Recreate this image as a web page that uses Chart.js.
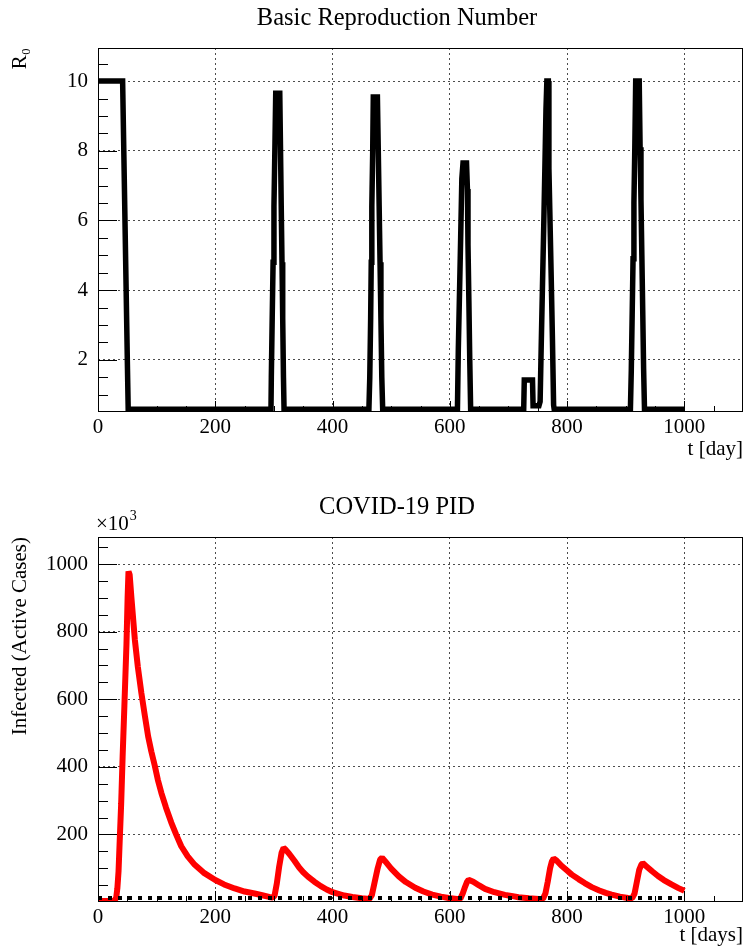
<!DOCTYPE html>
<html>
<head>
<meta charset="utf-8">
<script src="https://cdn.jsdelivr.net/npm/chart.js@4.4.1/dist/chart.umd.min.js"></script>
<style>
  html, body { margin: 0; padding: 0; background: #fff; }
  canvas { position: absolute; left: 0; }
  #chart1 { top: 0; }
  #chart2 { top: 474px; }
</style>
</head>
<body>
<canvas id="chart1" width="744" height="474"></canvas>
<canvas id="chart2" width="744" height="474"></canvas>
<script>
// tick labels
const dayTicks = [0, 200, 400, 600, 800, 1000];
const r0Ticks = [2, 4, 6, 8, 10];
const infTicks = [200, 400, 600, 800, 1000];

// basic reproduction number
const r0Days = [
  0, 42, 44, 46, 48, 50, 51.5,
  295, 295.6, 297.1, 298.6, 300.1, 301.6, 303.1, 310, 311.3, 312.5, 313.8, 315, 316.3, 317.3,
  462, 463.5, 465, 466, 467, 468.5, 469.5, 476.5, 478, 479.5, 481, 482.5, 484, 485.5,
  613, 614.5, 616.5, 618.5, 620.5, 622.5, 628.5, 630, 631, 632.5, 634, 635.5,
  726, 727, 741, 742, 752, 754, 756, 758, 760, 762, 764, 765.5, 768, 769, 771, 773, 775, 777, 778,
  908, 909.5, 911, 912.5, 914, 915.5, 917, 923, 924.5, 926, 927.5, 929, 930.5, 932, 1000
];
const r0Values = [
  10, 10, 8, 6, 4, 2, 0.58,
  0.58, 1.5, 3.2, 4.8, 6.4, 8.0, 9.65, 9.65, 8.0, 6.4, 4.8, 3.2, 1.5, 0.58,
  0.58, 1.5, 3.2, 4.8, 6.4, 8.0, 9.54, 9.54, 8.0, 6.4, 4.8, 3.2, 1.5, 0.58,
  0.58, 2.3, 3.9, 5.5, 7.2, 7.65, 7.65, 6.9, 5.3, 3.7, 2.0, 0.58,
  0.58, 1.42, 1.42, 0.68, 0.68, 0.8, 2.5, 4.1, 5.7, 7.4, 9.2, 10, 10, 7.5, 5.9, 4.3, 2.6, 0.7, 0.58,
  0.58, 1.7, 3.3, 4.9, 6.5, 8.1, 10, 10, 8.1, 6.6, 5.0, 3.4, 1.74, 0.58, 0.58
];

// infected, active cases (x10^3)
const infDays = [
  0, 10, 20, 28, 31, 33, 35, 37, 39.5, 42, 45, 48.5, 50.5, 52, 54, 57, 62.9, 68, 74, 80,
  85.5, 91, 97, 102, 108, 116, 125, 133, 142, 153, 165, 180, 200, 215, 233, 250, 267, 280, 292,
  298, 301, 305, 309, 313, 316.5, 320, 326, 335, 343, 350, 358, 369, 380, 390, 400, 420, 434, 450,
  463, 467, 472, 477, 481, 484.5, 490, 500, 513, 525, 541, 555, 570, 585, 598,
  612, 618, 622, 626, 629.5, 632, 640, 650, 660, 676, 694, 705, 717, 735,
  752, 759, 763, 767, 771, 774, 777, 782, 790, 800, 808, 820, 830, 842, 855, 866, 876, 890, 904,
  911, 915, 919, 923, 926.5, 929, 935, 945, 955, 965, 978, 990, 1000
];
const infValues = [
  3, 3, 3, 4, 12, 40, 90, 180, 290, 430, 580, 760, 900, 978, 968, 900, 775, 695, 618, 550,
  490, 445, 402, 362, 323, 279, 235, 201, 165, 135, 110, 87, 65, 52, 40, 31, 25, 20, 15,
  13, 18, 55, 105, 145, 160, 155, 143, 122, 102, 88, 75, 60, 47, 37, 29, 19, 15, 11,
  9, 20, 60, 100, 125, 131, 120, 99, 76, 59, 42, 31, 22, 16, 12,
  9, 10, 25, 45, 60, 66, 60, 49, 39, 29, 21, 18, 14, 11,
  9, 10, 25, 60, 100, 120, 129, 123, 108, 93, 81, 67, 56, 44, 34, 27, 22, 16, 12,
  11, 25, 60, 95, 110, 115, 106, 91, 77, 65, 52, 41, 33
];

// dotted reference level
const levelDays = [0, 1000];
const levelValues = [12, 12];

const serif = "'Liberation Serif', 'Times New Roman', serif";

function points(xs, ys) {
  return xs.map((x, i) => ({ x: x, y: ys[i] }));
}

// frame, inward ticks and titles drawn the ROOT way
const rootFrame = {
  id: "rootFrame",
  afterDatasetsDraw(chart, args, opts) {
    const { ctx, chartArea: a } = chart;
    const x = chart.scales.x;
    const y = chart.scales.y;
    ctx.save();
    ctx.strokeStyle = "#000";
    ctx.lineWidth = 1;
    ctx.beginPath();
    for (let v = opts.xMinor; v < x.max; v += opts.xMinor) {
      const px = Math.round(x.getPixelForValue(v)) + 0.5;
      const len = v % opts.xMajor === 0 ? 11 : 6;
      ctx.moveTo(px, a.bottom);
      ctx.lineTo(px, a.bottom - len);
    }
    for (let v = Math.ceil(y.min / opts.yMinor) * opts.yMinor; v < y.max; v += opts.yMinor) {
      if (v <= y.min + 1e-6) continue;
      const py = Math.round(y.getPixelForValue(v)) + 0.5;
      const r = v / opts.yMajor;
      const major = Math.abs(r - Math.round(r)) < 1e-6;
      ctx.moveTo(a.left, py);
      ctx.lineTo(a.left + (major ? 19 : 10), py);
    }
    ctx.stroke();
    ctx.strokeRect(a.left + 0.5, a.top + 0.5, a.width - 1, a.height - 1);
    ctx.restore();
  },
  afterDraw(chart, args, opts) {
    const ctx = chart.ctx;
    ctx.save();
    ctx.fillStyle = "#000";
    ctx.font = "24.5px " + serif;
    ctx.textAlign = "center";
    ctx.textBaseline = "middle";
    ctx.fillText(opts.title, 397, opts.titleY);
    if (opts.exponent) {
      ctx.textAlign = "left";
      ctx.font = "21px " + serif;
      ctx.fillText("\u00d710", 96, 50);
      const w = ctx.measureText("\u00d710").width;
      ctx.font = "14px " + serif;
      ctx.fillText("3", 96 + w + 1, 42);
    }
    ctx.restore();
  },
};

function makeChart(id, datasets, cfg) {
  return new Chart(document.getElementById(id), {
    type: "line",
    data: { datasets: datasets },
    plugins: [rootFrame],
    options: {
      responsive: false,
      animation: false,
      devicePixelRatio: 1,
      layout: { padding: { top: cfg.padTop, right: 1, left: 0, bottom: 0 } },
      plugins: {
        legend: { display: false },
        tooltip: { enabled: false },
        rootFrame: cfg.frame,
      },
      scales: {
        x: {
          type: "linear",
          min: 0,
          max: 1100,
          afterFit: (s) => { s.height = cfg.xHeight; },
          afterBuildTicks: (s) => { s.ticks = dayTicks.map((v) => ({ value: v })); },
          ticks: {
            autoSkip: false,
            maxRotation: 0,
            padding: 3,
            color: "#000",
            font: { family: serif, size: 21 },
            callback: (v) => String(v),
          },
          grid: { color: "rgba(0,0,0,0.7)", lineWidth: 1, drawTicks: false },
          border: { display: false, dash: [2, 3] },
          title: {
            display: true,
            text: cfg.xTitle,
            align: "end",
            color: "#000",
            font: { family: serif, size: 21 },
            padding: { top: 0, bottom: cfg.xTitlePad },
          },
        },
        y: {
          type: "linear",
          min: cfg.yMin,
          max: cfg.yMax,
          afterFit: (s) => { s.width = 98; },
          afterBuildTicks: (s) => { s.ticks = cfg.yTicks.map((v) => ({ value: v })); },
          ticks: {
            padding: 10,
            color: "#000",
            font: { family: serif, size: 21 },
            callback: (v) => String(v),
          },
          grid: { color: "rgba(0,0,0,0.7)", lineWidth: 1, drawTicks: false },
          border: { display: false, dash: [2, 3] },
          title: {
            display: true,
            text: cfg.yTitle,
            align: "end",
            color: "#000",
            font: { family: serif, size: 21 },
            padding: { top: 8, bottom: 0 },
          },
        },
      },
    },
  });
}

makeChart("chart1", [
  {
    data: points(r0Days, r0Values),
    borderColor: "#000",
    borderWidth: 5.5,
    borderJoinStyle: "miter",
    pointRadius: 0,
    tension: 0,
    clip: 0,
  },
], {
  padTop: 48,
  xHeight: 62,
  xTitle: "t [day]",
  xTitlePad: 12,
  yTitle: "R\u2080",
  yMin: 0.5,
  yMax: 10.95,
  yTicks: r0Ticks,
  frame: { xMinor: 50, xMajor: 200, yMinor: 0.5, yMajor: 2, title: "Basic Reproduction Number", titleY: 19 },
});

makeChart("chart2", [
  {
    data: points(levelDays, levelValues),
    borderColor: "#000",
    borderWidth: 4,
    borderDash: [4, 6],
    borderCapStyle: "butt",
    pointRadius: 0,
    order: 0,
    clip: 0,
  },
  {
    data: points(infDays, infValues),
    borderColor: "#ff0000",
    borderWidth: 6,
    borderJoinStyle: "bevel",
    pointRadius: 0,
    tension: 0,
    order: 1,
    clip: 0,
  },
], {
  padTop: 63,
  xHeight: 46,
  xTitle: "t [days]",
  xTitlePad: 0,
  yTitle: "Infected (Active Cases)",
  yMin: 0,
  yMax: 1080,
  yTicks: infTicks,
  frame: { xMinor: 50, xMajor: 200, yMinor: 50, yMajor: 200, title: "COVID-19 PID", titleY: 34, exponent: true },
});
</script>
</body>
</html>
